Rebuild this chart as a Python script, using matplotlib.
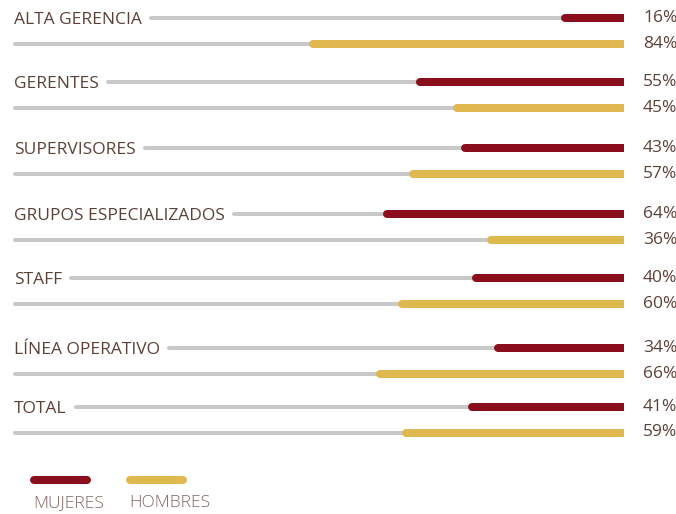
import matplotlib
matplotlib.use("Agg")
import matplotlib.pyplot as plt

categories = ["ALTA GERENCIA", "GERENTES", "SUPERVISORES", "GRUPOS ESPECIALIZADOS",
              "STAFF", "LÍNEA OPERATIVO", "TOTAL"]
mujeres = [16, 55, 43, 64, 40, 34, 41]
hombres = [84, 45, 57, 36, 60, 66, 59]
series_names = ["MUJERES", "HOMBRES"]

RED = "#8a0e1b"
GOLD = "#dfb84f"
GREY = "#c8c8c8"
TEXT = "#5b4037"
LEG_TEXT = "#7d6760"

plt.rcParams["font.family"] = ["Open Sans", "DejaVu Sans"]

W, H, DPI = 676, 514, 100
fig = plt.figure(figsize=(W / DPI, H / DPI), dpi=DPI)
RIGHT_PX = 624
PX_PER_PCT = 3.7
ax = fig.add_axes([0, 0, RIGHT_PX / W, 1])
ax.set_xlim(RIGHT_PX / PX_PER_PCT, 0)
ax.set_ylim(H, 0)
ax.axis("off")

px2pt = 72 / DPI
BAR_LW = 8 * px2pt
TRACK_LW = 4 * px2pt
track_max = (RIGHT_PX - 15) / PX_PER_PCT
FS = 12.5

# layout: row centres (pixel rows) of each group's first bar
row_y = [18, 82, 148, 214, 278, 348, 407]
gap = 25.5
texts = []
for i, cat in enumerate(categories):
    ym = row_y[i]
    yh = ym + gap
    t = ax.text(14 / RIGHT_PX, ym + 2, cat, transform=ax.get_yaxis_transform(),
                ha="left", va="center", fontsize=FS, color=TEXT)
    texts.append((t, ym))
    ax.plot([0, track_max], [yh, yh], color=GREY, lw=TRACK_LW, solid_capstyle="round", zorder=1)
    ax.plot([0, hombres[i]], [yh, yh], color=GOLD, lw=BAR_LW, solid_capstyle="round", zorder=2)
    ax.plot([0, mujeres[i]], [ym, ym], color=RED, lw=BAR_LW, solid_capstyle="round", zorder=2)
    ax.annotate(f"{mujeres[i]}%", xy=(0, ym), xytext=(19 * px2pt, 0), textcoords="offset points",
                ha="left", va="center", fontsize=FS, color=TEXT, annotation_clip=False)
    ax.annotate(f"{hombres[i]}%", xy=(0, yh), xytext=(19 * px2pt, 0), textcoords="offset points",
                ha="left", va="center", fontsize=FS, color=TEXT, annotation_clip=False)

fig.canvas.draw()
renderer = fig.canvas.get_renderer()
inv = ax.transData.inverted()
for t, ym in texts:
    bb = t.get_window_extent(renderer)
    xstart = inv.transform((bb.x1 + 9, 0))[0]
    ax.plot([0, xstart], [ym, ym], color=GREY, lw=TRACK_LW, solid_capstyle="round", zorder=1)

# legend
leg_y = 480
for j, (name, col) in enumerate(zip(series_names, [RED, GOLD])):
    x0 = 34 + j * 96
    ax.plot([x0 / RIGHT_PX, (x0 + 53) / RIGHT_PX], [leg_y, leg_y], color=col, lw=BAR_LW,
            solid_capstyle="round", transform=ax.get_yaxis_transform(), clip_on=False)
    ax.text((x0 - 1) / RIGHT_PX, 503, name, transform=ax.get_yaxis_transform(),
            ha="left", va="center", fontsize=FS, color=LEG_TEXT, fontweight="light")

fig.savefig("out.png", dpi=DPI, facecolor="white")
